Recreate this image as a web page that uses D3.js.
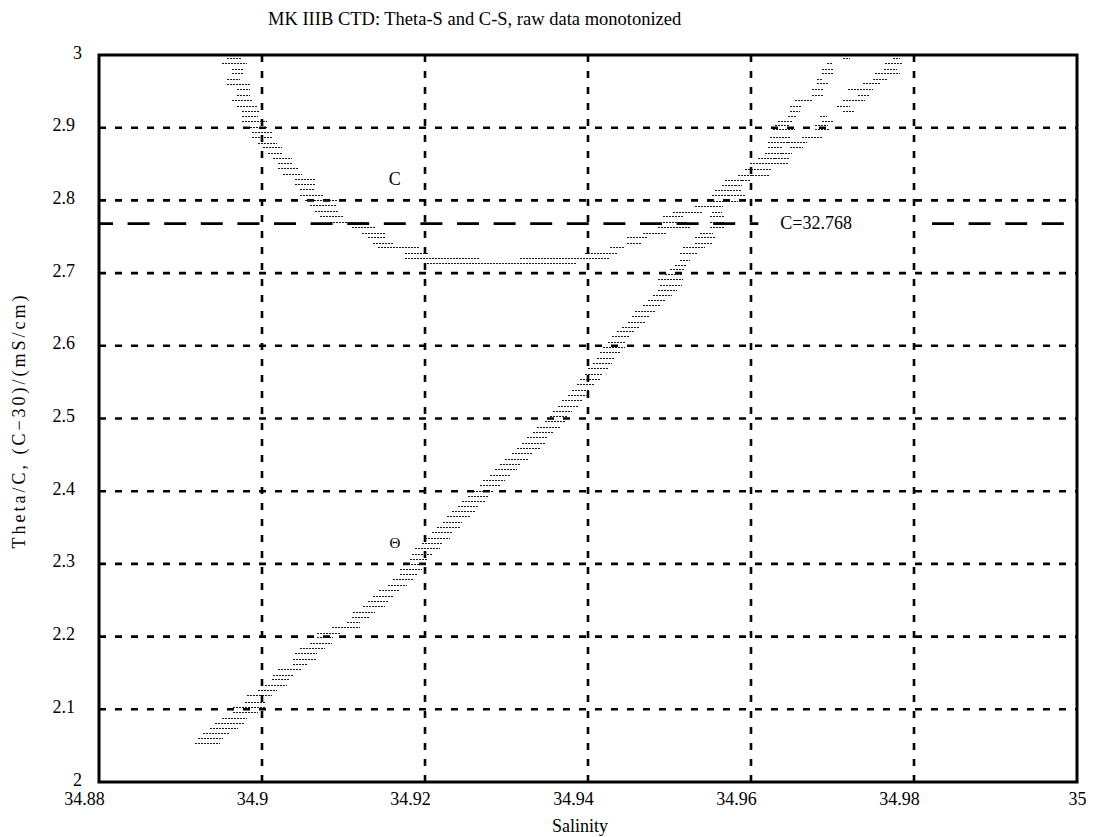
<!DOCTYPE html>
<html>
<head>
<meta charset="utf-8">
<script src="https://cdn.jsdelivr.net/npm/d3@7"></script>
<style>
  html, body { margin: 0; padding: 0; background: #fff; }
  svg { display: block; }
  text { font-family: "Liberation Serif", "Times New Roman", serif; fill: #000; }
</style>
</head>
<body>
<svg id="chart" width="1099" height="837"></svg>
<script>
// ---- text ----
const titleText = "MK IIIB CTD: Theta-S and C-S, raw data monotonized";
const xLabelText = "Salinity";
const yLabelText = "Theta/C, (C\u221230)/(mS/cm)";

// ---- axes ----
const xDomain = [34.88, 35];
const yDomain = [2, 3];
const xTicks = [34.88, 34.9, 34.92, 34.94, 34.96, 34.98, 35];
const yTicks = [2, 2.1, 2.2, 2.3, 2.4, 2.5, 2.6, 2.7, 2.8, 2.9, 3];

// reference conductivity level (plotted as C - 30)
const refC = 32.768;

// ---- data: each row is one monotonized level [value, salinity from, salinity to] ----
const thetaRows = [
  [2.054, 34.8918, 34.8948], [2.061, 34.8921, 34.8952], [2.067, 34.8928, 34.8961],
  [2.074, 34.8936, 34.8971], [2.081, 34.8942, 34.8979], [2.088, 34.8951, 34.8982],
  [2.096, 34.8964, 34.8995], [2.103, 34.8964, 34.9004], [2.110, 34.8979, 34.9004],
  [2.120, 34.8982, 34.9012], [2.127, 34.8995, 34.9018], [2.133, 34.9004, 34.9031],
  [2.142, 34.9012, 34.9034], [2.147, 34.9013, 34.9038], [2.155, 34.9020, 34.9049],
  [2.162, 34.9038, 34.9056], [2.169, 34.9038, 34.9067], [2.177, 34.9040, 34.9067],
  [2.184, 34.9047, 34.9077], [2.191, 34.9059, 34.9086], [2.199, 34.9067, 34.9087],
  [2.205, 34.9067, 34.9096], [2.213, 34.9086, 34.9120], [2.220, 34.9104, 34.9120],
  [2.227, 34.9110, 34.9133], [2.234, 34.9112, 34.9139], [2.242, 34.9124, 34.9151],
  [2.249, 34.9130, 34.9155], [2.256, 34.9136, 34.9161], [2.264, 34.9144, 34.9169],
  [2.271, 34.9155, 34.9178], [2.279, 34.9161, 34.9185], [2.286, 34.9169, 34.9191],
  [2.293, 34.9169, 34.9196], [2.300, 34.9175, 34.9200], [2.307, 34.9182, 34.9204],
  [2.314, 34.9184, 34.9209], [2.322, 34.9188, 34.9218], [2.329, 34.9196, 34.9221],
  [2.336, 34.9200, 34.9231], [2.344, 34.9209, 34.9233], [2.351, 34.9215, 34.9243],
  [2.358, 34.9222, 34.9245], [2.366, 34.9227, 34.9255], [2.373, 34.9233, 34.9261],
  [2.380, 34.9240, 34.9265], [2.387, 34.9245, 34.9274], [2.393, 34.9253, 34.9277],
  [2.400, 34.9259, 34.9283], [2.409, 34.9268, 34.9292], [2.415, 34.9271, 34.9298],
  [2.422, 34.9280, 34.9304], [2.431, 34.9286, 34.9313], [2.437, 34.9292, 34.9317],
  [2.444, 34.9298, 34.9326], [2.453, 34.9307, 34.9331], [2.459, 34.9313, 34.9341],
  [2.466, 34.9319, 34.9347], [2.475, 34.9325, 34.9351], [2.481, 34.9333, 34.9357],
  [2.488, 34.9337, 34.9366], [2.497, 34.9347, 34.9372], [2.503, 34.9353, 34.9375],
  [2.510, 34.9357, 34.9380], [2.517, 34.9363, 34.9388], [2.525, 34.9368, 34.9393],
  [2.532, 34.9375, 34.9400], [2.539, 34.9380, 34.9402], [2.547, 34.9387, 34.9409],
  [2.554, 34.9390, 34.9415], [2.561, 34.9396, 34.9418], [2.570, 34.9400, 34.9425],
  [2.576, 34.9406, 34.9429], [2.583, 34.9411, 34.9433], [2.592, 34.9415, 34.9439],
  [2.598, 34.9418, 34.9445], [2.605, 34.9425, 34.9445], [2.614, 34.9429, 34.9452],
  [2.620, 34.9436, 34.9458], [2.626, 34.9442, 34.9464], [2.633, 34.9449, 34.9470],
  [2.641, 34.9454, 34.9476], [2.648, 34.9458, 34.9482], [2.656, 34.9468, 34.9488],
  [2.663, 34.9474, 34.9494], [2.670, 34.9480, 34.9503], [2.677, 34.9486, 34.9509],
  [2.684, 34.9488, 34.9515], [2.692, 34.9486, 34.9517], [2.699, 34.9494, 34.9517],
  [2.706, 34.9501, 34.9519], [2.711, 34.9507, 34.9521], [2.718, 34.9513, 34.9525],
  [2.728, 34.9513, 34.9534], [2.736, 34.9517, 34.9544], [2.741, 34.9531, 34.9552],
  [2.750, 34.9531, 34.9556], [2.755, 34.9537, 34.9553], [2.763, 34.9550, 34.9568],
  [2.770, 34.9550, 34.9568], [2.779, 34.9550, 34.9568], [2.784, 34.9552, 34.9564],
  [2.792, 34.9550, 34.9566], [2.799, 34.9546, 34.9564], [2.807, 34.9552, 34.9572],
  [2.814, 34.9556, 34.9574], [2.821, 34.9564, 34.9580], [2.828, 34.9568, 34.9589],
  [2.835, 34.9584, 34.9601], [2.843, 34.9593, 34.9611], [2.852, 34.9599, 34.9621],
  [2.858, 34.9609, 34.9629], [2.865, 34.9617, 34.9638], [2.874, 34.9621, 34.9638],
  [2.880, 34.9621, 34.9645], [2.887, 34.9623, 34.9648], [2.898, 34.9627, 34.9654],
  [2.904, 34.9629, 34.9648], [2.909, 34.9633, 34.9650], [2.916, 34.9645, 34.9655],
  [2.923, 34.9648, 34.9660], [2.930, 34.9648, 34.9663], [2.938, 34.9654, 34.9675],
  [2.945, 34.9675, 34.9688], [2.953, 34.9675, 34.9688], [2.962, 34.9681, 34.9695],
  [2.967, 34.9681, 34.9687], [2.975, 34.9687, 34.9701], [2.981, 34.9687, 34.9701],
  [2.989, 34.9693, 34.9699], [2.996, 34.9713, 34.9722], [3.000, 34.9713, 34.9728]
];

// C - 30 in mS/cm, same layout
const condRows = [
  [3.000, 34.8948, 34.8977], [2.996, 34.8957, 34.8975], [2.989, 34.8951, 34.8982],
  [2.981, 34.8963, 34.8977], [2.975, 34.8963, 34.8977], [2.967, 34.8957, 34.8973],
  [2.960, 34.8957, 34.8985], [2.953, 34.8969, 34.8985], [2.945, 34.8969, 34.8985],
  [2.938, 34.8963, 34.8988], [2.930, 34.8969, 34.8994], [2.923, 34.8975, 34.8998],
  [2.916, 34.8975, 34.8995], [2.909, 34.8975, 34.9006], [2.901, 34.8982, 34.9007],
  [2.894, 34.8988, 34.9012], [2.887, 34.8988, 34.9013], [2.879, 34.8995, 34.9018],
  [2.874, 34.9001, 34.9025], [2.865, 34.9007, 34.9025], [2.858, 34.9013, 34.9037],
  [2.852, 34.9020, 34.9037], [2.845, 34.9020, 34.9044], [2.836, 34.9026, 34.9049],
  [2.829, 34.9040, 34.9065], [2.823, 34.9040, 34.9065], [2.816, 34.9047, 34.9065],
  [2.807, 34.9047, 34.9075], [2.801, 34.9053, 34.9092], [2.794, 34.9059, 34.9092],
  [2.785, 34.9065, 34.9093], [2.779, 34.9071, 34.9099], [2.770, 34.9083, 34.9129],
  [2.763, 34.9110, 34.9139], [2.755, 34.9123, 34.9151], [2.750, 34.9130, 34.9151],
  [2.741, 34.9136, 34.9161], [2.736, 34.9142, 34.9194], [2.728, 34.9175, 34.9204],
  [2.721, 34.9175, 34.9268], [2.721, 34.9317, 34.9427], [2.714, 34.9202, 34.9387],
  [2.728, 34.9396, 34.9436], [2.736, 34.9427, 34.9445], [2.741, 34.9448, 34.9466],
  [2.750, 34.9448, 34.9474], [2.755, 34.9468, 34.9497], [2.763, 34.9486, 34.9525],
  [2.770, 34.9492, 34.9521], [2.779, 34.9492, 34.9517], [2.784, 34.9504, 34.9540],
  [2.792, 34.9531, 34.9550], [2.799, 34.9564, 34.9584], [2.807, 34.9572, 34.9593],
  [2.814, 34.9574, 34.9589], [2.821, 34.9580, 34.9589], [2.828, 34.9589, 34.9599],
  [2.835, 34.9601, 34.9623], [2.843, 34.9611, 34.9626], [2.852, 34.9621, 34.9645],
  [2.858, 34.9629, 34.9648], [2.865, 34.9638, 34.9650], [2.874, 34.9648, 34.9664],
  [2.880, 34.9645, 34.9669], [2.887, 34.9663, 34.9688], [2.898, 34.9679, 34.9697],
  [2.904, 34.9679, 34.9695], [2.909, 34.9687, 34.9701], [2.916, 34.9685, 34.9693],
  [2.923, 34.9713, 34.9728], [2.930, 34.9706, 34.9722], [2.938, 34.9713, 34.9740],
  [2.945, 34.9731, 34.9746], [2.953, 34.9719, 34.9750], [2.962, 34.9737, 34.9758],
  [2.967, 34.9750, 34.9767], [2.975, 34.9752, 34.9783], [2.981, 34.9763, 34.9779],
  [2.989, 34.9764, 34.9785], [2.996, 34.9774, 34.9783], [3.000, 34.9774, 34.9799]
];

// curve labels, anchored in data coordinates
const curveLabels = [
  { text: "C", s: 34.9163, v: 2.821, size: 18 },
  { text: "\u0398", s: 34.9163, v: 2.322, size: 15 }
];

// ---- layout ----
const svg = d3.select("#chart");
const plot = { left: 99, right: 1077, top: 55, bottom: 782 };
const x = d3.scaleLinear().domain(xDomain).range([plot.left, plot.right]);
const y = d3.scaleLinear().domain(yDomain).range([plot.bottom, plot.top]);
const fmt = d3.format("");

// dotted grid
const grid = svg.append("g")
  .attr("stroke", "#000")
  .attr("stroke-width", 2.6)
  .attr("stroke-dasharray", "7 9")
  .attr("fill", "none");

grid.selectAll("line.h")
  .data(yTicks.filter(d => d > yDomain[0] && d < yDomain[1]))
  .join("line")
  .attr("class", "h")
  .attr("x1", x(xDomain[0])).attr("x2", x(xDomain[1]))
  .attr("y1", d => y(d)).attr("y2", d => y(d));

grid.selectAll("line.v")
  .data(xTicks.filter(d => d > xDomain[0] && d < xDomain[1]))
  .join("line")
  .attr("class", "v")
  .attr("x1", d => x(d)).attr("x2", d => x(d))
  .attr("y1", y(yDomain[0])).attr("y2", y(yDomain[1]));

// monotonized level rows, drawn as fine dotted streaks
function drawRows(rows) {
  svg.append("g")
    .attr("stroke", "#1a1a1a")
    .attr("stroke-width", 1)
    .attr("stroke-dasharray", "2 1")
    .attr("shape-rendering", "crispEdges")
    .selectAll("line")
    .data(rows)
    .join("line")
    .attr("x1", d => x(d[1]))
    .attr("x2", d => x(d[2]))
    .attr("y1", d => Math.round(y(d[0])) + 0.5)
    .attr("y2", d => Math.round(y(d[0])) + 0.5);
}
drawRows(thetaRows);
drawRows(condRows);

// reference conductivity line with its label
const refY = y(refC - 30);
const refLabel = svg.append("text")
  .attr("x", x(34.9636))
  .attr("y", refY + 5)
  .attr("font-size", 18)
  .text("C=" + refC);
const rb = refLabel.node().getBBox();
const refSegments = [
  [x(xDomain[0]), rb.x - 22, 8],
  [rb.x + rb.width + 80, x(xDomain[1]), 0]
];
svg.append("g")
  .attr("stroke", "#000")
  .attr("stroke-width", 2.6)
  .attr("stroke-dasharray", "22 14.6")
  .selectAll("line")
  .data(refSegments)
  .join("line")
  .attr("stroke-dashoffset", d => d[2])
  .attr("x1", d => d[0]).attr("x2", d => d[1])
  .attr("y1", refY).attr("y2", refY);

// curve labels
svg.append("g")
  .selectAll("text")
  .data(curveLabels)
  .join("text")
  .attr("x", d => x(d.s))
  .attr("y", d => y(d.v))
  .attr("text-anchor", "middle")
  .attr("font-size", d => d.size)
  .text(d => d.text);

// frame
svg.append("rect")
  .attr("x", plot.left).attr("y", plot.top)
  .attr("width", plot.right - plot.left)
  .attr("height", plot.bottom - plot.top)
  .attr("fill", "none")
  .attr("stroke", "#000")
  .attr("stroke-width", 3);

// tick labels
const gx = svg.append("g")
  .attr("transform", `translate(0,${plot.bottom})`)
  .call(d3.axisBottom(x).tickValues(xTicks).tickFormat(fmt).tickSize(0));
gx.select(".domain").remove();
gx.attr("font-family", null).attr("font-size", null);
gx.selectAll("text")
  .attr("font-size", 18)
  .attr("y", 23)
  .attr("dy", null)
  .attr("dx", d => -(fmt(d).length - 2) * 5);

const gy = svg.append("g")
  .attr("transform", `translate(${plot.left},0)`)
  .call(d3.axisLeft(y).tickValues(yTicks).tickFormat(fmt).tickSize(0));
gy.select(".domain").remove();
gy.attr("font-family", null).attr("font-size", null);
gy.selectAll("text")
  .attr("font-size", 18)
  .attr("text-anchor", "end")
  .attr("x", d => fmt(d).includes(".") ? -24 : -17)
  .attr("dy", null)
  .attr("y", 3);

// titles
svg.append("text")
  .attr("x", 268).attr("y", 25)
  .attr("font-size", 18.5)
  .text(titleText);

svg.append("text")
  .attr("x", 580).attr("y", 832)
  .attr("text-anchor", "middle")
  .attr("font-size", 18)
  .text(xLabelText);

svg.append("text")
  .attr("transform", `translate(25,${(plot.top + plot.bottom) / 2 + 2}) rotate(-90)`)
  .attr("text-anchor", "middle")
  .attr("font-size", 18)
  .attr("letter-spacing", 3)
  .text(yLabelText);
</script>
</body>
</html>
